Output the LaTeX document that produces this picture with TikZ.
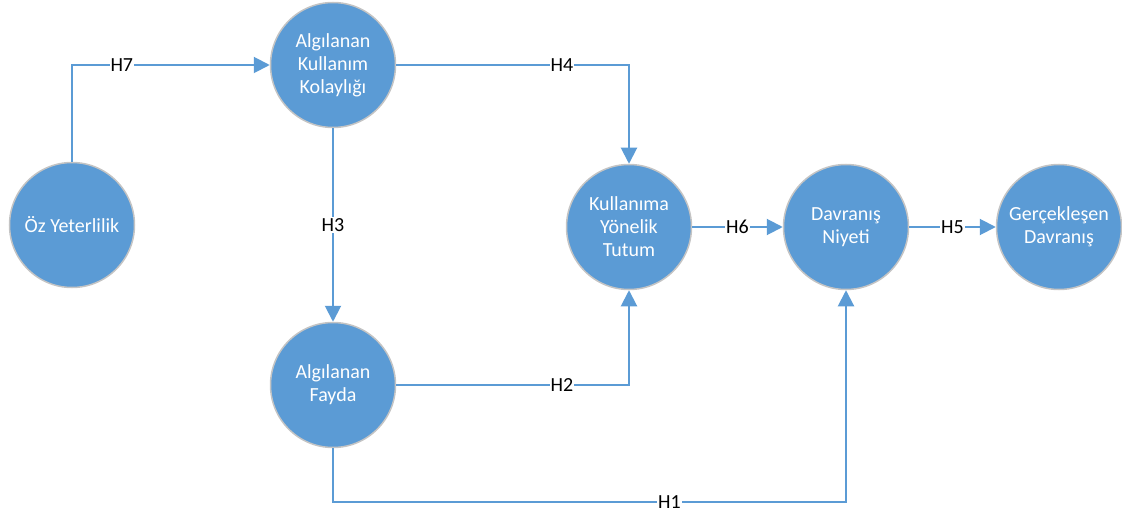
\documentclass[tikz,border=0pt]{standalone}
\usepackage{fontspec}
\setmainfont{Carlito}
\usetikzlibrary{arrows.meta}
\definecolor{nodeblue}{HTML}{5B9BD5}
\definecolor{rimgray}{HTML}{C4C4C4}
\begin{document}
\begin{tikzpicture}[x=1pt,y=-1pt,
  concept/.style={circle, fill=nodeblue, draw=rimgray, line width=1.5pt,
    minimum size=125pt, inner sep=0pt, text=white, align=center,
    font=\fontsize{20}{23}\selectfont},
  link/.style={draw=nodeblue, line width=2pt, -{Triangle[length=16pt,width=16pt]}},
  hlabel/.style={fill=white, inner sep=1pt, text=black,
    font=\fontsize{20}{23}\selectfont}]
\useasboundingbox (0,0) rectangle (1122,513);
\node[concept] (oz)  at (72,225)   {Öz Yeterlilik};
\node[concept] (kol) at (333,65)   {Algılanan\\Kullanım\\Kolaylığı};
\node[concept] (fay) at (333,385)  {Algılanan\\Fayda};
\node[concept] (tut) at (629,227)  {Kullanıma\\Yönelik\\Tutum};
\node[concept] (niy) at (846,227)  {Davranış\\Niyeti};
\node[concept] (ger) at (1059,227) {Gerçekleşen\\Davranış};
\coordinate (h1c) at (333,502);
\draw[link] (oz.north) |- node[hlabel, pos=0.626] {H7} (kol.west);
\draw[link] (kol.east) -| node[hlabel, pos=0.356] {H4} (tut.north);
\draw[link] (kol.south) -- node[hlabel, pos=0.5] {H3} (fay.north);
\draw[link] (fay.east) -| node[hlabel, pos=0.356] {H2} (tut.south);
\draw[link] (tut.east) -- node[hlabel, pos=0.5] {H6} (niy.west);
\draw[link] (niy.east) -- node[hlabel, pos=0.5] {H5} (ger.west);
\draw[link] (fay.south) -- (h1c) -| node[hlabel, pos=0.328] {H1} (niy.south);
\end{tikzpicture}
\end{document}
